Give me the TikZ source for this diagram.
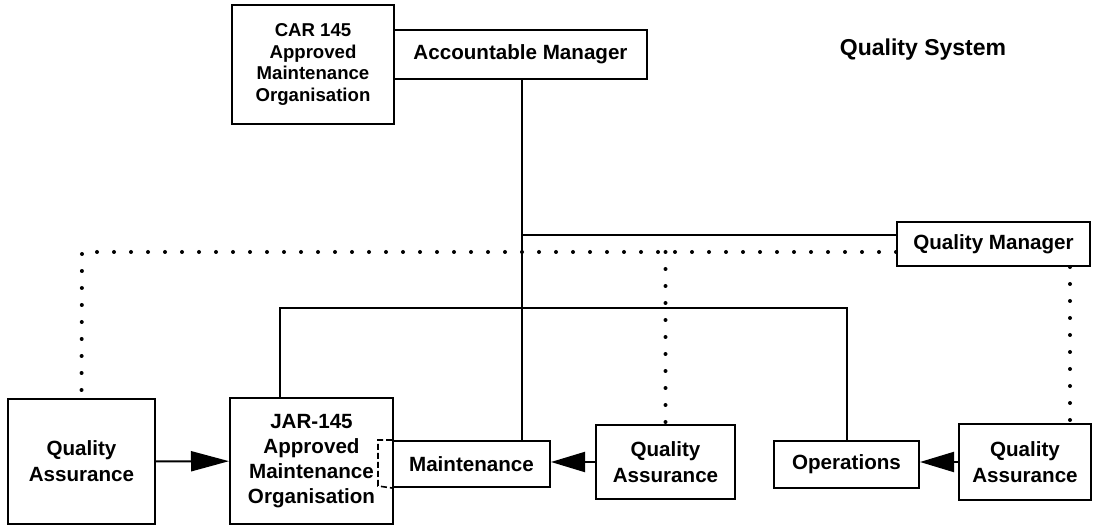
\documentclass[tikz,border=0pt]{standalone}
\usepackage{fontspec}
\setmainfont{Liberation Sans}
\usetikzlibrary{arrows.meta}

\begin{document}
\begin{tikzpicture}[
                x=0.5pt, y=-0.5pt,
                box/.style={draw, line width=1pt, inner sep=0pt, align=center,
                    font=\bfseries\fontsize{10.3}{13}\selectfont},
                dots/.style={line width=2pt, line cap=round, dash pattern=on 0pt off 8.5pt},
                solid line/.style={line width=1pt},
                head/.style={line width=1pt, -{Triangle[length=19pt,width=10pt]}}
            ]
            \useasboundingbox (0,0) rectangle (1099,529);
            % top
            \node[box, minimum width=81pt, minimum height=59.5pt,
                font=\bfseries\fontsize{9.3}{10.8}\selectfont] (car) at (313,64.5)
                {CAR 145\\Approved\\Maintenance\\Organisation};
            \node[box, minimum width=126.5pt, minimum height=24.5pt] (acc) at (520.5,54.5) {Accountable Manager};
            \node[font=\bfseries\fontsize{11.5}{13}\selectfont] (title) at (923,50) {Quality System};
            \node[box, minimum width=96.5pt, minimum height=22pt] (qm) at (993.5,244) {Quality Manager};
            % bottom row
            \node[box, minimum width=73.5pt, minimum height=62.5pt] (qa1) at (81.5,461.5) {Quality\\Assurance};
            \node[box, minimum width=81.5pt, minimum height=63pt,
                font=\bfseries\fontsize{10.3}{12.5}\selectfont] (jar) at (311.5,461)
                {JAR-145\\Approved\\Maintenance\\Organisation};
            \node[box, minimum width=78.5pt, minimum height=23pt] (maint) at (471.5,464) {Maintenance};
            \node[box, minimum width=69.5pt, minimum height=37pt] (qa2) at (665.5,462) {Quality\\Assurance};
            \node[box, minimum width=72.5pt, minimum height=23.5pt] (ops) at (846.5,464.5) {Operations};
            \node[box, minimum width=66pt, minimum height=38pt] (qa3) at (1025,462) {Quality\\Assurance};
            \draw[line width=0.8pt, dash pattern=on 3pt off 1.5pt]
                (maint.north west) -- ++(-14,0) -- ++(0,46) -- (maint.south west);
            % solid lines
            \coordinate (trunk) at (522,235);
            \coordinate (bus) at (280,308);
            \draw[solid line] (acc.south -| trunk) -- (maint.north -| trunk);
            \draw[solid line] (trunk) -- (qm.west |- trunk);
            \draw[solid line] (jar.north -| bus) -- (bus) -| (ops.north);
            % dotted lines
            \coordinate (dotrow) at (82,252);
            \coordinate (qmdrop) at (1070,0);
            \draw[dots] (qm.west |- dotrow) -- (dotrow) -- (qa1.north);
            \draw[dots] (qa2.north |- dotrow) -- (qa2.north);
            \draw[dots] (qm.south -| qmdrop) -- (qa3.north -| qmdrop);
            % arrows
            \draw[head] (qa1) -- (jar);
            \draw[head, -{Triangle[length=17pt,width=10pt]}] (qa2.west) -- (qa2.west -| maint.east);
            \draw[head, -{Triangle[length=17pt,width=10pt]}] (qa3.west) -- (qa3.west -| ops.east);
        \end{tikzpicture}
\end{document}
